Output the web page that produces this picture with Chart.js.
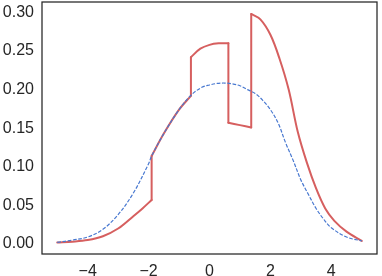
<!DOCTYPE html>
<html>
<head>
<meta charset="utf-8">
<script src="https://cdn.jsdelivr.net/npm/chart.js@4.4.1/dist/chart.umd.min.js"></script>
<style>
  html, body { margin: 0; padding: 0; background: #fff; }
  #wrap { width: 382px; height: 276px; }
</style>
</head>
<body>
<div id="wrap"><canvas id="canvas" width="382" height="276"></canvas></div>
<script>
// blue dashed curve
let blueX = [-5, -4.5, -4, -3.5, -3, -2.5, -2, -1.9, -1.5, -1, -0.6, -0.25, 0, 0.25, 0.5, 0.75, 1, 1.25, 1.5, 1.75, 2, 2.25, 2.5, 2.75, 3, 3.25, 3.5, 3.75, 4, 4.5, 5];
let blueY = [0.002, 0.005, 0.009, 0.019, 0.038, 0.066, 0.104, 0.114, 0.143, 0.174, 0.193, 0.203, 0.206, 0.208, 0.2085, 0.2075, 0.205, 0.200, 0.195, 0.186, 0.174, 0.157, 0.131, 0.108, 0.083, 0.064, 0.046, 0.032, 0.021, 0.009, 0.004];

// red solid curve (repeated x = jump)
let redX = [-5, -4.5, -4, -3.5, -3, -2.5, -2.2, -1.9, -1.9, -1.5, -1, -0.61, -0.61, -0.3, 0, 0.3, 0.62, 0.62, 1.0, 1.37, 1.37, 1.67, 2.0, 2.3, 2.6, 2.9, 3.2, 3.5, 3.8, 4.1, 4.5, 5];
let redY = [0.002, 0.003, 0.005, 0.010, 0.020, 0.036, 0.046, 0.057, 0.114, 0.143, 0.174, 0.192, 0.242, 0.253, 0.258, 0.260, 0.260, 0.157, 0.154, 0.151, 0.298, 0.291, 0.271, 0.240, 0.200, 0.145, 0.105, 0.072, 0.046, 0.030, 0.016, 0.004];

let xTicks = [-4, -2, 0, 2, 4];
let xTickLabels = ['\u22124', '\u22122', '0', '2', '4'];
let yTicks = [0, 0.05, 0.10, 0.15, 0.20, 0.25, 0.30];

const RED = '#d65f5f';
const BLUE = '#4878d0';

// split red into smooth pieces + vertical jumps
let redPieces = [[]];
let jumps = [];
for (let i = 0; i < redX.length; i++) {
  if (i > 0 && redX[i] === redX[i - 1]) {
    jumps.push({x: redX[i - 1], y: redY[i - 1]}, {x: redX[i], y: redY[i]}, {x: redX[i], y: null});
    redPieces.push([]);
  }
  redPieces[redPieces.length - 1].push({x: redX[i], y: redY[i]});
}

let datasets = [{
  data: blueX.map(function(x, i) { return {x: x, y: blueY[i]}; }),
  borderColor: BLUE,
  borderWidth: 1.2,
  borderDash: [3.7, 1.6],
  pointRadius: 0,
  tension: 0.35,
  fill: false
}];
redPieces.forEach(function(p) {
  datasets.push({ data: p, borderColor: RED, borderWidth: 2, borderCapStyle: 'round', pointRadius: 0, tension: 0.35, fill: false });
});
datasets.push({ data: jumps, borderColor: RED, borderWidth: 2, borderCapStyle: 'round', pointRadius: 0, tension: 0, spanGaps: false, fill: false });

// draws the four spines
let frame = {
  id: 'frame',
  afterDraw: function(chart) {
    let a = chart.chartArea;
    let c = chart.ctx;
    c.save();
    c.strokeStyle = '#262626';
    c.lineWidth = 1.25;
    c.strokeRect(a.left, a.top, a.right - a.left, a.bottom - a.top);
    c.restore();
  }
};

let tickFont = { family: '"Liberation Sans", Arial, sans-serif', size: 16 };

let ctx = document.getElementById('canvas').getContext('2d');
let chart = new Chart(ctx, {
  type: 'line',
  data: { datasets: datasets },
  options: {
    responsive: false,
    animation: false,
    layout: { padding: { top: 2, right: 5, left: 0, bottom: 0 } },
    plugins: { legend: { display: false }, tooltip: { enabled: false } },
    scales: {
      x: {
        type: 'linear',
        min: -5.5,
        max: 5.5,
        grid: { display: false, drawTicks: false },
        border: { display: false },
        afterBuildTicks: function(s) { s.ticks = xTicks.map(function(v) { return {value: v}; }); },
        afterFit: function(s) { s.height = 22; s.paddingLeft = 0; s.paddingRight = 0; },
        ticks: {
          padding: 8,
          color: '#262626',
          font: tickFont,
          callback: function(v) { return xTickLabels[xTicks.indexOf(v)]; }
        }
      },
      y: {
        min: -0.013,
        max: 0.3135,
        grid: { display: false, drawTicks: false },
        border: { display: false },
        afterBuildTicks: function(s) { s.ticks = yTicks.map(function(v) { return {value: v}; }); },
        afterFit: function(s) { s.width = 42; s.paddingTop = 0; s.paddingBottom = 0; },
        ticks: {
          padding: 8,
          color: '#262626',
          font: tickFont,
          callback: function(v) { return v.toFixed(2); }
        }
      }
    }
  },
  plugins: [frame]
});
</script>
</body>
</html>
